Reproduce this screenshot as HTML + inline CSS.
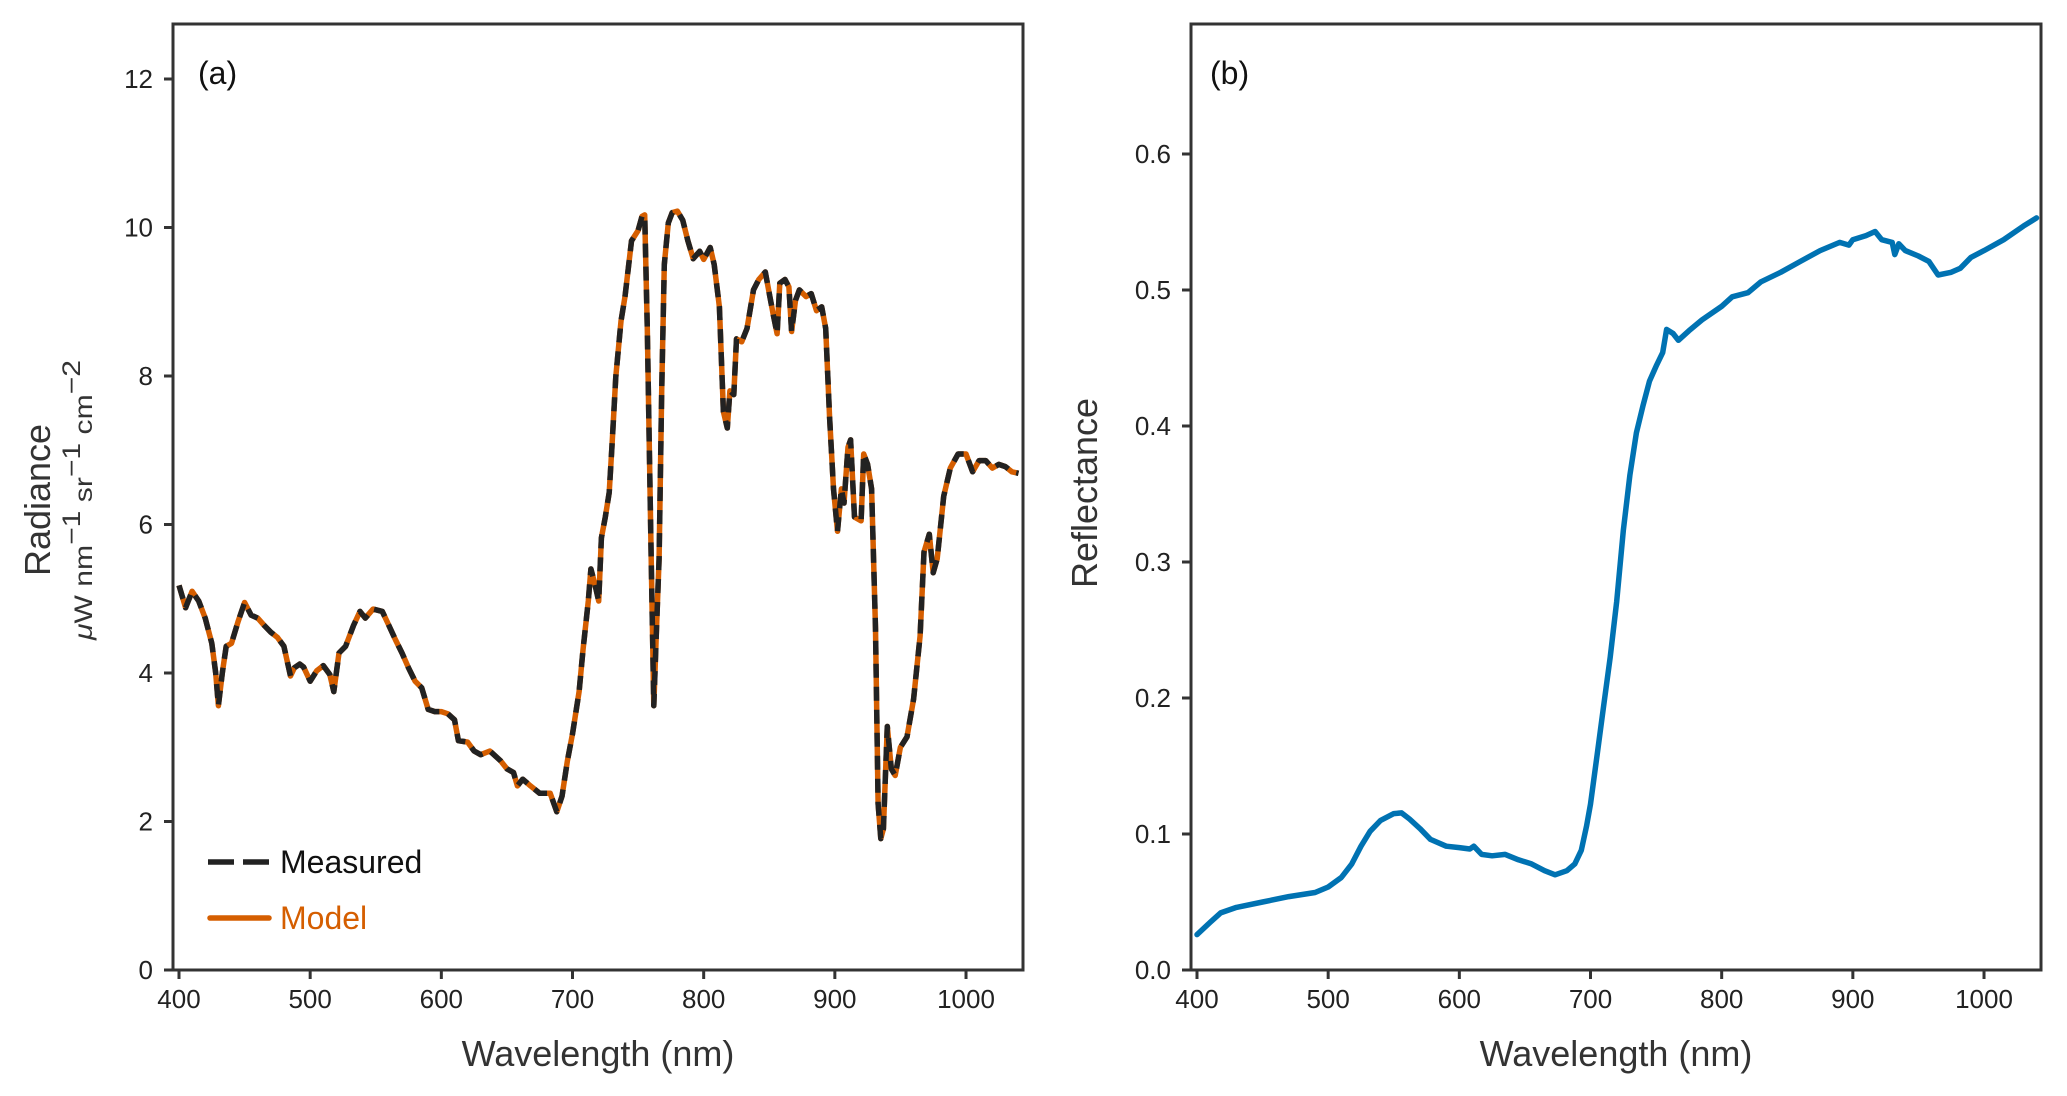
<!DOCTYPE html>
<html><head><meta charset="utf-8"><style>
html,body{margin:0;padding:0;background:#fff;}
svg{display:block;font-family:"Liberation Sans",Arial,sans-serif;}
</style></head><body>
<svg id="fig" width="2067" height="1096" viewBox="0 0 2067 1096" xmlns="http://www.w3.org/2000/svg">
<g id="pa"></g>
<g id="pb"></g>
</svg>
<script>
const radWl = [400,405,410,415,420,425,428,430,433,436,440,445,450,455,460,465,470,475,480,485,488,492,495,500,505,510,515,518,522,527,533,538,542,548,555,560,565,570,575,580,585,590,595,600,605,610,613,620,625,630,637,645,650,655,658,662,668,675,683,688,692,696,700,705,708,712,714,717,720,722,725,728,730,733,737,740,745,750,753,755,757,760,762,764,766,768,770,773,776,780,784,788,792,797,800,805,808,812,815,818,820,823,825,829,833,838,842,847,850,853,856,858,862,865,867,870,873,878,882,886,890,893,896,899,902,905,907,910,912,915,920,922,925,928,931,933,935,937,940,943,946,950,955,960,965,968,972,975,978,983,988,994,1000,1005,1010,1015,1020,1025,1030,1035,1040];
const radMeasured = [5.18,4.88,5.1,4.97,4.74,4.4,4.0,3.56,4.0,4.36,4.4,4.69,4.95,4.78,4.74,4.64,4.55,4.48,4.36,3.96,4.07,4.12,4.08,3.89,4.03,4.1,3.98,3.75,4.27,4.36,4.64,4.83,4.74,4.86,4.83,4.64,4.45,4.27,4.07,3.89,3.8,3.51,3.48,3.48,3.45,3.37,3.09,3.07,2.95,2.9,2.95,2.82,2.71,2.66,2.48,2.57,2.48,2.38,2.38,2.13,2.34,2.81,3.18,3.75,4.31,4.97,5.4,5.2,4.97,5.82,6.1,6.43,7.04,7.99,8.74,9.07,9.82,9.96,10.15,10.17,8.64,5.54,3.56,4.6,5.54,7.8,9.5,10.06,10.2,10.22,10.1,9.82,9.58,9.68,9.57,9.73,9.5,8.93,7.52,7.3,7.8,7.75,8.5,8.46,8.64,9.16,9.3,9.4,9.11,8.83,8.57,9.25,9.3,9.2,8.6,9.02,9.16,9.07,9.11,8.88,8.93,8.64,7.44,6.48,5.91,6.48,6.29,7.04,7.14,6.1,6.05,6.95,6.81,6.48,4.6,2.24,1.77,1.9,3.28,2.71,2.62,3.0,3.14,3.65,4.5,5.63,5.87,5.35,5.54,6.38,6.76,6.95,6.95,6.71,6.86,6.86,6.76,6.81,6.78,6.71,6.69];
const radModel = radMeasured.slice();
const radYTicks = [0,2,4,6,8,10,12];
const xTicks = [400,500,600,700,800,900,1000];
const refWl = [400,410,418,430,450,470,490,500,510,518,525,532,540,550,556,562,570,578,590,600,608,611,617,625,635,645,655,665,673,682,688,693,697,700,705,710,715,720,725,730,735,740,745,750,755,758,763,767,775,785,800,808,820,830,845,860,875,890,897,900,910,917,922,930,932,935,940,950,958,965,975,982,990,1000,1015,1030,1040];
const refVals = [0.026,0.035,0.042,0.046,0.050,0.054,0.057,0.061,0.068,0.078,0.091,0.102,0.110,0.115,0.1155,0.111,0.104,0.096,0.091,0.090,0.089,0.091,0.085,0.084,0.085,0.081,0.078,0.073,0.070,0.073,0.078,0.088,0.106,0.122,0.158,0.194,0.23,0.271,0.323,0.364,0.395,0.415,0.433,0.444,0.454,0.471,0.468,0.463,0.47,0.478,0.488,0.495,0.498,0.506,0.513,0.521,0.529,0.535,0.533,0.537,0.540,0.543,0.537,0.535,0.526,0.534,0.529,0.525,0.521,0.511,0.513,0.516,0.524,0.529,0.537,0.547,0.553];
const refYTicks = [0.0,0.1,0.2,0.3,0.4,0.5,0.6];

const NS="http://www.w3.org/2000/svg";
function mk(parent,tag,attrs,text){const e=document.createElementNS(NS,tag);for(const k in attrs)e.setAttribute(k,attrs[k]);if(text!==undefined)e.textContent=text;parent.appendChild(e);return e;}

function axes(g,L,R,T,B,xmin,xmax,ymin,ymax,yt,yfmt){
  const sx=v=>L+(v-xmin)/(xmax-xmin)*(R-L);
  const sy=v=>B-(v-ymin)/(ymax-ymin)*(B-T);
  xTicks.forEach(t=>{
    const l=mk(g,'line',{x1:sx(t),x2:sx(t),y1:B,y2:B+9,stroke:'#333','stroke-width':3});
    
    
    const tx=mk(g,'text',{x:sx(t),y:B+38,'text-anchor':'middle','font-size':26,fill:'#222'},String(t));
    
    
  });
  yt.forEach(t=>{
    const l=mk(g,'line',{x1:L-9,x2:L,y1:sy(t),y2:sy(t),stroke:'#333','stroke-width':3});
    
    
    const tx=mk(g,'text',{x:L-20,y:sy(t)+9,'text-anchor':'end','font-size':26,fill:'#222'},yfmt(t));
    
    
  });
  const xl=mk(g,'text',{x:(L+R)/2,y:1066,'text-anchor':'middle','font-size':36,fill:'#333'},'Wavelength (nm)');
  
  
  return {sx,sy};
}
function frame(g,L,R,T,B){
  const r=mk(g,'rect',{x:L,y:T,width:R-L,height:B-T,fill:'none',stroke:'#333','stroke-width':3});
  
  
}
function pathD(xs,ys,sx,sy){return xs.map((x,i)=>(i?'L':'M')+sx(x).toFixed(1)+','+sy(ys[i]).toFixed(1)).join(' ');}

// Panel A
(function(){
  const g=document.getElementById('pa');
  const L=173,R=1023,T=24,B=970;
  const xmin=400-(179-173)/1.3117, xmax=400+(1023-179)/1.3117;
  const ymax=(970-24)/74.25;
  const {sx,sy}=axes(g,L,R,T,B,xmin,xmax,0,ymax,radYTicks,t=>String(t));
  const m=mk(g,'path',{d:pathD(radWl,radModel,sx,sy),fill:'none',stroke:'#d55e00','stroke-width':5.5,'stroke-linejoin':'round'});
  
  
  const me=mk(g,'path',{d:pathD(radWl,radMeasured,sx,sy),fill:'none',stroke:'#222','stroke-width':5.5,'stroke-dasharray':'14 9','stroke-linejoin':'round'});
  
  
  frame(g,L,R,T,B);
  const pl=mk(g,'text',{x:198,y:84,'font-size':32,fill:'#111'},'(a)');
  
  
  const yl=mk(g,'text',{x:0,y:0,'text-anchor':'middle','font-size':36,fill:'#333',transform:'translate(50,500) rotate(-90)'},'Radiance');
  
  
  const yu=mk(g,'text',{x:0,y:0,'text-anchor':'middle','font-size':25,fill:'#333',transform:'translate(92,500) rotate(-90)',textLength:280,lengthAdjust:'spacingAndGlyphs'});
  
  
  yu.innerHTML='<tspan font-style="italic">μ</tspan>W nm<tspan dy="-12">−1</tspan><tspan dy="12"> sr</tspan><tspan dy="-12">−1</tspan><tspan dy="12"> cm</tspan><tspan dy="-12">−2</tspan>';
  const lg=mk(g,'g',{});
  
  
  const l1=mk(lg,'line',{x1:208,x2:269,y1:862,y2:862,stroke:'#222','stroke-width':5.5,'stroke-dasharray':'26 9'});
  
  
  const t1=mk(lg,'text',{x:280,y:873,'font-size':32,fill:'#111'},'Measured');
  
  
  const l2=mk(lg,'line',{x1:210,x2:269,y1:918,y2:918,stroke:'#d55e00','stroke-width':5.5,'stroke-linecap':'round'});
  
  
  const t2=mk(lg,'text',{x:280,y:929,'font-size':32,fill:'#d55e00'},'Model');
  
  
})();

// Panel B
(function(){
  const g=document.getElementById('pb');
  const L=1191,R=2041,T=24,B=970;
  const xmin=400-(1197-1191)/1.3117, xmax=400+(2041-1197)/1.3117;
  const ymax=(970-24)/1360;
  const {sx,sy}=axes(g,L,R,T,B,xmin,xmax,0,ymax,refYTicks,t=>t.toFixed(1));
  const p=mk(g,'path',{d:pathD(refWl,refVals,sx,sy),fill:'none',stroke:'#0072b2','stroke-width':5.5,'stroke-linejoin':'round','stroke-linecap':'round'});
  
  
  frame(g,L,R,T,B);
  const pl=mk(g,'text',{x:1210,y:84,'font-size':32,fill:'#111'},'(b)');
  
  
  const yl=mk(g,'text',{x:0,y:0,'text-anchor':'middle','font-size':36,fill:'#333',transform:'translate(1097,493) rotate(-90)'},'Reflectance');
  
  
})();
</script>
</body></html>
